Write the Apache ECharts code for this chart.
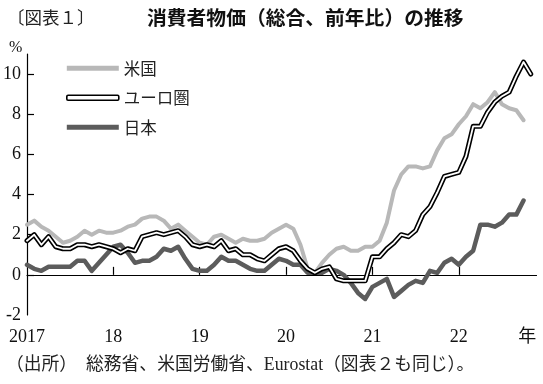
<!DOCTYPE html>
<html>
<head>
<meta charset="utf-8">
<script src="https://cdn.jsdelivr.net/npm/echarts@6/dist/echarts.min.js"></script>
<style>
html,body{margin:0;padding:0;background:#fff;}
#chart{width:543px;height:384px;}
</style>
</head>
<body>
<div id="chart"></div>
<script>
// Monthly index 0 = Jan 2017
const yearTickPositions = [0, 12, 24, 36, 48, 60];
const yearTickLabels = ['2017', '18', '19', '20', '21', '22'];
const yTickValues = [-2, 0, 2, 4, 6, 8, 10];

const usCPI = [2.5,2.7,2.4,2.2,1.9,1.6,1.7,1.9,2.2,2.0,2.2,2.1,
  2.1,2.2,2.4,2.5,2.8,2.9,2.9,2.7,2.3,2.5,2.2,1.9,
  1.6,1.5,1.9,2.0,1.8,1.6,1.8,1.7,1.7,1.8,2.1,2.3,
  2.5,2.3,1.5,0.3,0.1,0.6,1.0,1.3,1.4,1.2,1.2,1.4,
  1.4,1.7,2.6,4.2,5.0,5.4,5.4,5.3,5.4,6.2,6.8,7.0,
  7.5,7.9,8.5,8.3,8.6,9.1,8.5,8.3,8.2,7.7];

const euroCPI = [1.7,2.0,1.5,1.9,1.4,1.3,1.3,1.5,1.5,1.4,1.5,1.4,
  1.3,1.1,1.3,1.2,1.9,2.0,2.1,2.0,2.1,2.2,1.9,1.5,
  1.4,1.5,1.4,1.7,1.2,1.3,1.0,1.0,0.8,0.7,1.0,1.3,
  1.4,1.2,0.7,0.3,0.1,0.3,0.4,-0.2,-0.3,-0.3,-0.3,-0.3,
  0.9,0.9,1.3,1.6,2.0,1.9,2.2,3.0,3.4,4.1,4.9,5.0,
  5.1,5.9,7.4,7.4,8.1,8.6,8.9,9.1,9.9,10.6,10.0];

const japanCPI = [0.5,0.3,0.2,0.4,0.4,0.4,0.4,0.7,0.7,0.2,0.6,1.0,
  1.4,1.5,1.1,0.6,0.7,0.7,0.9,1.3,1.2,1.4,0.8,0.3,
  0.2,0.2,0.5,0.9,0.7,0.7,0.5,0.3,0.2,0.2,0.5,0.8,
  0.7,0.5,0.5,0.1,0.1,0.1,0.3,0.2,0.0,-0.4,-0.9,-1.2,
  -0.6,-0.4,-0.2,-1.1,-0.8,-0.5,-0.3,-0.4,0.2,0.1,0.6,0.8,
  0.5,0.9,1.2,2.5,2.5,2.4,2.6,3.0,3.0,3.7];

const seriesNames = ['米国', 'ユーロ圏', '日本'];

function pairs(arr){ return arr.map((v,i)=>[i,v]); }

const SERIF = "'Liberation Serif', 'Noto Sans CJK JP', serif";
const JP = "'Noto Sans CJK JP', sans-serif";

const chart = echarts.init(document.getElementById('chart'), null, {renderer:'canvas'});
const labelMap = {};
yearTickPositions.forEach((p,i)=>labelMap[p]=yearTickLabels[i]);
labelMap[69.5] = '年';

chart.setOption({
  animation: false,
  backgroundColor: '#fff',
  title: [
    {text: '〔図表１〕', left: 2, top: 4, textStyle: {fontSize: 17.5, fontWeight: 'normal', color: '#222', fontFamily: JP}},
    {text: '消費者物価（総合、前年比）の推移', left: 142, top: 3, textStyle: {fontSize: 19.8, fontWeight: 'bold', color: '#111', fontFamily: JP}},
    {text: '%', left: 4, top: 35, textStyle: {fontSize: 16, fontWeight: 'normal', color: '#111', fontFamily: SERIF}},
    {text: '（出所）　総務省、米国労働省、Eurostat（図表２も同じ）。', left: 1, top: 351, textStyle: {fontSize: 17.8, fontWeight: 'normal', color: '#222', fontFamily: SERIF}}
  ],
  grid: {left: 27, right: 6.5, top: 54, bottom: 69, containLabel: false},
  legend: {
    orient: 'vertical', left: 61, top: 55, itemGap: 13,
    itemWidth: 52, itemHeight: 5,
    textStyle: {fontSize: 16.5, color: '#222', fontFamily: JP},
    data: [
      {name: '米国', icon: 'rect'},
      {name: 'ユーロ圏', icon: 'roundRect', itemStyle: {color: '#fff', borderColor: '#000', borderWidth: 1.6}},
      {name: '日本', icon: 'rect'}
    ]
  },
  xAxis: {
    type: 'value', min: 0, max: 70.8,
    axisLine: {lineStyle: {color: '#000', width: 1.2}},
    axisTick: {show: true, inside: true, length: 8, lineStyle: {color: '#000', width: 1.2}, customValues: [12,24,36,48,60]},
    axisLabel: {
      customValues: yearTickPositions.concat([69.5]),
      formatter: v => labelMap[v] !== undefined ? labelMap[v] : '',
      fontSize: 18, color: '#111', fontFamily: SERIF, margin: 13
    },
    splitLine: {show: false}
  },
  yAxis: {
    type: 'value', min: -2, max: 11, interval: 2,
    axisLine: {show: true, lineStyle: {color: '#000', width: 1.2}},
    axisTick: {show: true, inside: true, length: 7, lineStyle: {color: '#000', width: 1.2}, customValues: [0,2,4,6,8,10]},
    axisLabel: {customValues: yTickValues, fontSize: 18, color: '#111', fontFamily: SERIF, margin: 6},
    splitLine: {show: false}
  },
  series: [
    {
      name: seriesNames[0], type: 'line', data: pairs(usCPI), symbol: 'none',
      color: '#b8b8b8',
      lineStyle: {width: 4, color: '#b8b8b8', join: 'round', cap: 'round'},
      z: 2,
      markLine: {silent: true, symbol: ['none','none'], label: {show: false},
        lineStyle: {color: '#000', width: 1, type: 'solid'}, data: [{yAxis: 0}], z: 1}
    },
    {
      name: seriesNames[2], type: 'line', data: pairs(japanCPI), symbol: 'none',
      color: '#5c5c5c',
      lineStyle: {width: 4.5, color: '#5c5c5c', join: 'round', cap: 'round'},
      z: 3
    },
    {
      name: seriesNames[1], type: 'line', data: pairs(euroCPI), symbol: 'none',
      color: '#000',
      lineStyle: {width: 5, color: '#000', join: 'round', cap: 'round'},
      z: 4
    },
    {
      name: 'ユーロ圏（内側）', type: 'line', data: pairs(euroCPI), symbol: 'none',
      color: '#fff',
      lineStyle: {width: 1.8, color: '#fff', join: 'round', cap: 'round'},
      z: 5
    }
  ]
});
</script>
</body>
</html>
